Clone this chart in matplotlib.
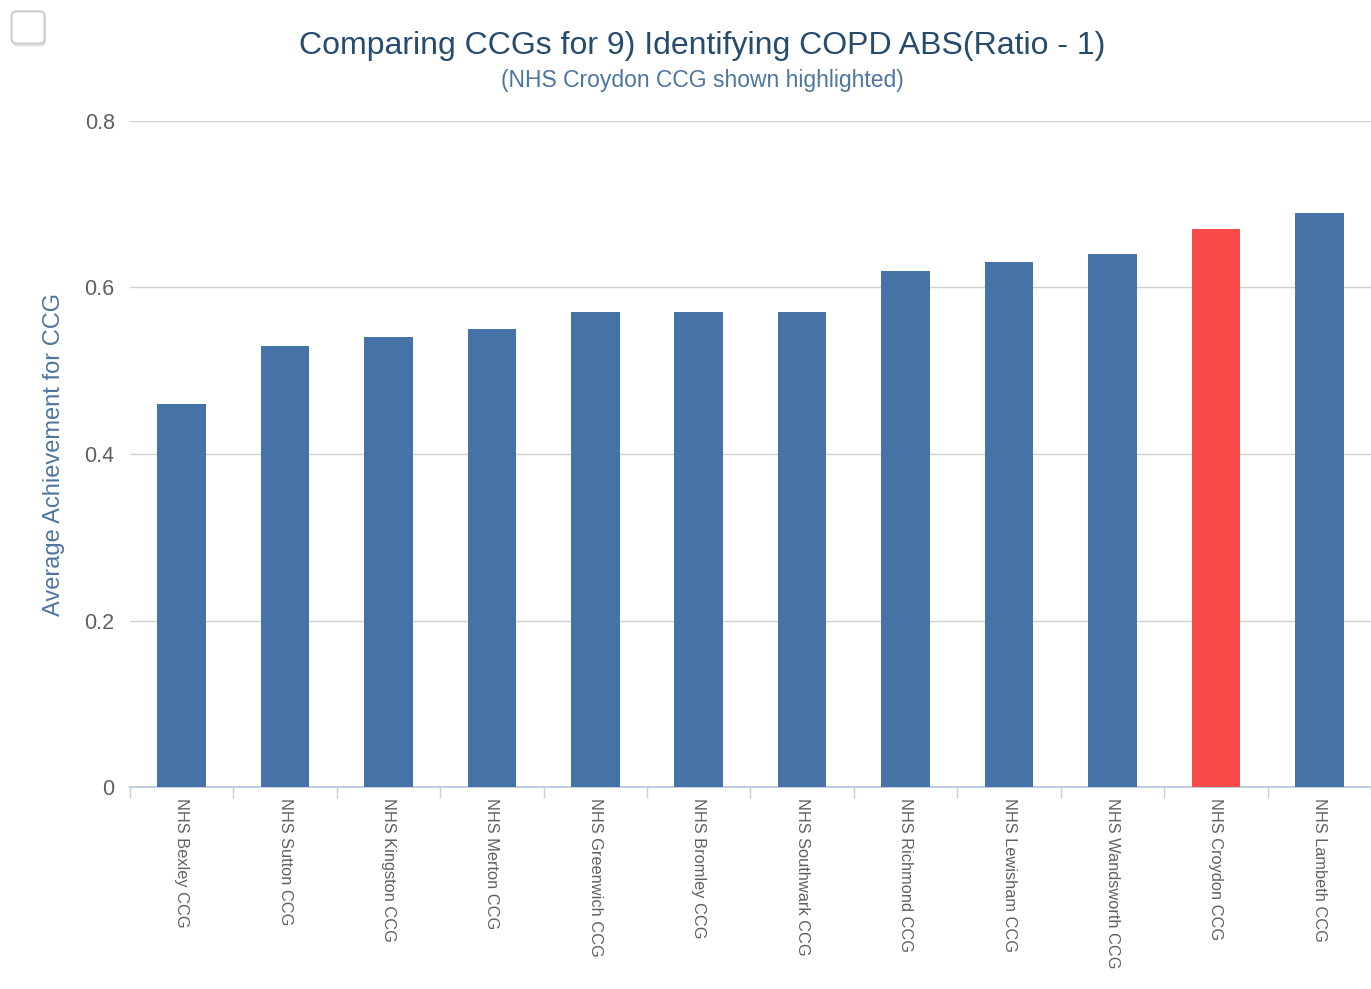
import matplotlib
matplotlib.use("Agg")
import matplotlib.pyplot as plt
from matplotlib.patches import FancyBboxPatch

ccgs = ["NHS Bexley CCG", "NHS Sutton CCG", "NHS Kingston CCG", "NHS Merton CCG",
        "NHS Greenwich CCG", "NHS Bromley CCG", "NHS Southwark CCG",
        "NHS Richmond CCG", "NHS Lewisham CCG", "NHS Wandsworth CCG",
        "NHS Croydon CCG", "NHS Lambeth CCG"]
values = [0.46, 0.53, 0.54, 0.55, 0.57, 0.57, 0.57, 0.62, 0.63, 0.64, 0.67, 0.69]
highlight = "NHS Croydon CCG"
yticks = [0, 0.2, 0.4, 0.6, 0.8]

BLUE = "#4572A7"
RED = "#F94A4A"
plt.rcParams["font.family"] = ["Liberation Sans", "DejaVu Sans"]

fig = plt.figure(figsize=(13.71, 9.89), dpi=100)
ax = fig.add_axes([0.0948, 0.2042, 0.9052, 0.6735])

x = list(range(len(ccgs)))
colors = [RED if c == highlight else BLUE for c in ccgs]
ax.bar(x, values, width=0.47, color=colors, zorder=3)

ax.set_xlim(-0.5, len(ccgs) - 0.5)
ax.set_ylim(0, 0.8)
ax.set_yticks(yticks)
ax.set_yticklabels(["0" if v == 0 else f"{v:g}" for v in yticks],
                   fontsize=15.5, color="#606060")
ax.grid(axis="y", color="#D0D0D0", lw=1, zorder=0)
ax.tick_params(axis="y", length=0, pad=11)

ax.set_xticks(x)
ax.set_xticklabels(ccgs, rotation=270, fontsize=11.8, color="#606060",
                   ha="center", va="top")
ax.set_xticks([i - 0.5 for i in range(len(ccgs) + 1)], minor=True)
ax.tick_params(axis="x", which="major", length=0, pad=8)
ax.tick_params(axis="x", which="minor", length=8, color="#C0D0E0", width=1)

for s in ["top", "right", "left"]:
    ax.spines[s].set_visible(False)
ax.spines["bottom"].set_color("#C0D0E0")
ax.spines["bottom"].set_linewidth(1.5)

ax.set_ylabel("Average Achievement for CCG", fontsize=17, color="#4d759e",
              labelpad=14)

fig.text(0.512, 0.953, "Comparing CCGs for 9) Identifying COPD ABS(Ratio - 1)",
         ha="center", va="center", fontsize=23, color="#274b6d")
fig.text(0.512, 0.919, "(NHS Croydon CCG shown highlighted)",
         ha="center", va="center", fontsize=16.5, color="#4d759e")

# checkbox in the top-left corner, with a soft shadow
shadow = FancyBboxPatch((0.0095, 0.953), 0.024, 0.0325,
                        boxstyle="round,pad=0,rounding_size=0.004",
                        transform=fig.transFigure, facecolor="#E4E4E4",
                        edgecolor="none")
box = FancyBboxPatch((0.0085, 0.956), 0.024, 0.0325,
                     boxstyle="round,pad=0,rounding_size=0.004",
                     transform=fig.transFigure, facecolor="white",
                     edgecolor="#CCCCCC", lw=1.5)
fig.patches.extend([shadow, box])

fig.savefig("out.png", dpi=100)
